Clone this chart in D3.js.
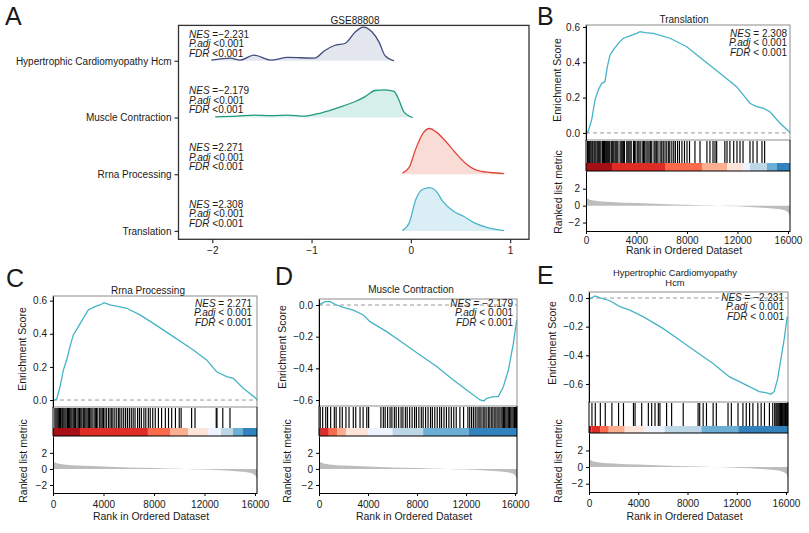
<!DOCTYPE html>
<html>
<head>
<meta charset="utf-8">
<script src="https://cdn.jsdelivr.net/npm/d3@7"></script>
<style>
  body { margin: 0; background: #fff; }
  text { font-family: "Liberation Sans", Arial, Helvetica, sans-serif; fill: #1a1a1a; }
</style>
</head>
<body>
<svg id="fig" width="809" height="533"></svg>
<script>
// ---------------- data: panel A (ridges) ----------------
var ridgeCats = ["Hypertrophic Cardiomyopathy Hcm", "Muscle Contraction", "Rrna Processing", "Translation"];
var ridgeNES = ["\u22122.231", "\u22122.179", "2.271", "2.308"];
var ridgeColors = ["#3d4a7c", "#1f9a7e", "#e0463b", "#4db4ca"];
var ridgeFills = ["#e4e6ef", "#d6efe9", "#fadcd7", "#d9eff5"];

var hcmX = [-2.01, -1.82, -1.72, -1.58, -1.41, -1.24, -0.97, -0.87, -0.77, -0.66, -0.56, -0.48, -0.39, -0.32, -0.26, -0.17];
var hcmD = [0.03, 0.12, 0.03, 0.25, 0.03, 0.15, 0.12, 0.45, 0.68, 0.78, 1.28, 1.50, 1.28, 0.83, 0.23, 0];
var muscleX = [-1.97, -1.75, -1.58, -1.41, -1.24, -1.07, -0.90, -0.73, -0.56, -0.46, -0.36, -0.26, -0.17, -0.12, -0.07, 0.02];
var muscleD = [0.03, 0.06, 0.11, 0.08, 0.11, 0.06, 0.21, 0.44, 0.71, 0.93, 1.20, 1.23, 1.16, 0.78, 0.25, 0];
var rrnaX = [-0.085, -0.017, 0.05, 0.12, 0.19, 0.255, 0.357, 0.46, 0.56, 0.66, 0.80, 0.94];
var rrnaD = [0.045, 0.30, 1.13, 1.80, 2.03, 1.88, 1.43, 0.90, 0.45, 0.18, 0.075, 0.03];
var transX = [-0.085, -0.017, 0.05, 0.12, 0.19, 0.255, 0.32, 0.43, 0.53, 0.63, 0.77, 0.94];
var transD = [0.015, 0.35, 1.40, 1.85, 1.92, 1.77, 1.32, 0.87, 0.65, 0.38, 0.15, 0.015];

// ---------------- data: GSEA panels ----------------
var nGenes = 16160;
var metricRank = [0, 100, 300, 600, 1000, 1500, 2000, 3000, 4000, 5000, 6000, 7000, 8000, 9000, 10000, 11000, 12000, 13000, 14000, 14800, 15400, 15800, 16000, 16100, 16160];
var metricValue = [1.05, 0.85, 0.7, 0.6, 0.52, 0.46, 0.42, 0.35, 0.3, 0.24, 0.19, 0.14, 0.1, 0.06, 0.02, -0.03, -0.08, -0.15, -0.24, -0.33, -0.42, -0.58, -0.78, -1.0, -1.3];

var barColors = ["#A50F15", "#DE2D26", "#FB6A4A", "#FCAE91", "#FEE5D9", "#EFF3FF", "#BDD7E7", "#6BAED6", "#3182BD"];

var gseaTitles = [["Translation"], ["Rrna Processing"], ["Muscle Contraction"], ["Hypertrophic Cardiomyopathy", "Hcm"]];
var gseaNES = ["2.308", "2.271", "\u22122.179", "\u22122.231"];

var esTranslation = [[0, 0], [50, -0.002], [180, 0.01], [450, 0.074], [713, 0.187], [977, 0.243], [1240, 0.281], [1505, 0.29], [1690, 0.375],
  [1900, 0.44], [2165, 0.47], [2560, 0.507], [2960, 0.536], [3485, 0.549], [4015, 0.564], [4280, 0.573], [4675, 0.568], [5330, 0.564],
  [6650, 0.536], [7980, 0.488], [9290, 0.413], [10610, 0.338], [11930, 0.262], [12990, 0.168], [13520, 0.149], [14040, 0.14],
  [14570, 0.12], [15370, 0.055], [16160, 0.002]];
var esRrna = [[0, 0], [26, 0], [290, 0.004], [554, 0.08], [818, 0.181], [1082, 0.242], [1346, 0.322], [1610, 0.393], [2006, 0.443],
  [2402, 0.494], [2798, 0.544], [3326, 0.564], [3722, 0.574], [4040, 0.588], [4515, 0.574], [4911, 0.568], [5835, 0.554], [6891, 0.514],
  [7947, 0.463], [9531, 0.383], [11115, 0.302], [12170, 0.242], [12962, 0.171], [13755, 0.141], [14280, 0.131], [15073, 0.071],
  [16079, 0.01], [16160, 0]];
var esMuscle = [[0, 0], [82, 0.004], [490, 0.021], [898, 0.021], [1442, 0], [1986, -0.015], [2802, -0.032], [3619, -0.063], [4163, -0.105],
  [5524, -0.168], [6885, -0.242], [8245, -0.316], [9606, -0.389], [10966, -0.474], [12054, -0.537], [13143, -0.6], [13450, -0.606],
  [13687, -0.589], [14231, -0.579], [14639, -0.579], [15045, -0.516], [15455, -0.411], [15864, -0.242], [16136, -0.095]];
var esHcm = [[0, 0], [27, -0.009], [485, 0.014], [1024, -0.002], [1697, -0.019], [2505, -0.06], [3313, -0.084], [4390, -0.13], [6006, -0.212],
  [7354, -0.293], [8700, -0.375], [10050, -0.456], [11390, -0.549], [12740, -0.607], [13820, -0.654], [14360, -0.661], [14760, -0.672],
  [15030, -0.654], [15300, -0.572], [15570, -0.433], [15840, -0.293], [16100, -0.13]];

var hitsTranslation = [120, 210, 290, 380, 470, 540, 640, 720, 800, 930, 1010, 1090, 1180, 1300, 1380, 1460, 1560, 1640, 1720, 1800,
  1880, 2000, 2080, 2160, 2290, 2370, 2450, 2530, 2700, 2790, 2870, 2960, 3050, 3230, 3320, 3400, 3490, 3580, 3760, 3850, 3950, 4100,
  4190, 4290, 4450, 4560, 4650, 4760, 4900, 5000, 5120, 5210, 5390, 5480, 5600, 5700, 5870, 6000, 6120, 6260, 6400, 6550, 6640, 6800,
  6950, 7080, 7250, 7400, 7600, 7800, 8000, 8200, 8630, 9030, 9580, 9820, 10060, 10220, 10350, 11000, 11170, 11400, 11700, 11960,
  12200, 12440, 12990, 13230, 13550, 13940, 14150];
var hitsRrna = [150, 240, 330, 420, 520, 600, 700, 770, 860, 950, 1040, 1150, 1230, 1320, 1410, 1500, 1600, 1690, 1780, 1900, 2000,
  2100, 2200, 2290, 2400, 2480, 2600, 2700, 2800, 2900, 3000, 3100, 3250, 3350, 3440, 3550, 3700, 3800, 3900, 4000, 4120, 4250, 4400,
  4520, 4650, 4750, 4900, 5050, 5200, 5300, 5450, 5600, 5750, 5900, 6050, 6200, 6350, 6500, 6700, 6850, 7000, 7200, 7350, 7550, 7700,
  7900, 8100, 8350, 8600, 8900, 9150, 9400, 9700, 10000, 10150, 10980, 11250, 12930, 12990, 13450, 14020];
var hitsMuscle = [100, 300, 550, 700, 950, 1250, 1400, 1700, 1900, 2200, 2450, 2800, 3000, 3350, 3600, 3900, 4050, 5050, 5250, 5400,
  5600, 5800, 5950, 6150, 6300, 6500, 6700, 6850, 7050, 7200, 7400, 7600, 7800, 7950, 8150, 8350, 8500, 8700, 8900, 9100, 9250, 9450,
  9650, 9850, 10000, 10200, 10400, 10600, 10800, 11000, 11200, 11500, 11800, 12150, 12300, 12450, 12600, 12750, 12900, 13050, 13150,
  13300, 13450, 13550, 13700, 13850, 13950, 14100, 14200, 14350, 14450, 14600, 14700, 14850, 14950, 15050, 15150, 15250, 15350, 15450,
  15550, 15650, 15750, 15850, 15950, 16050, 16120];
var hitsHcm = [240, 510, 920, 1320, 1860, 2400, 2800, 3610, 3740, 4280, 4820, 5090, 5360, 5630, 5760, 6300, 6710, 7650, 8860, 8990,
  9270, 9540, 10080, 10340, 11290, 11560, 12100, 12500, 12770, 13040, 13310, 13710, 13980, 14250, 14650, 14920, 15080, 15180, 15260,
  15340, 15420, 15490, 15560, 15630, 15700, 15770, 15840, 15900, 15960, 16020, 16080, 16130];

var breaksTranslation = [0, 2060, 6260, 9190, 11170, 12430, 12990, 14340, 15130, 16160];
var breaksRrna = [0, 2140, 7520, 9270, 10700, 12280, 13300, 14260, 15050, 16160];
var breaksMuscle = [0, 150, 800, 1500, 2200, 4000, 6000, 8500, 12200, 16160];
var breaksHcm = [0, 200, 900, 1600, 2900, 4500, 6140, 9130, 12120, 16160];

var xTicks = [0, 4000, 8000, 12000, 16000];

// ---------------- drawing ----------------
var svg = d3.select("#fig");

// panel letters
[["A", 5, 25], ["B", 537, 25], ["C", 6, 287], ["D", 275, 285], ["E", 537, 284]].forEach(function (l) {
  svg.append("text").attr("x", l[1]).attr("y", l[2]).style("font-size", "25px").text(l[0]);
});

// ---- panel A ----
var xA = d3.scaleLinear().domain([-2.34, 1.19]).range([178.5, 529]);
var yA = d3.scalePoint().domain(ridgeCats).range([60.8, 230.9]);
var hA = d3.scaleLinear().domain([0, 1]).range([0, 22.5]);

var ridgeData = [d3.zip(hcmX, hcmD), d3.zip(muscleX, muscleD), d3.zip(rrnaX, rrnaD), d3.zip(transX, transD)];

var gA = svg.append("g");
ridgeData.forEach(function (pts, i) {
  var base = yA(ridgeCats[i]);
  var area = d3.area().curve(d3.curveMonotoneX)
    .x(function (d) { return xA(d[0]); })
    .y0(base)
    .y1(function (d) { return base - hA(d[1]); });
  var line = d3.line().curve(d3.curveMonotoneX)
    .x(function (d) { return xA(d[0]); })
    .y(function (d) { return base - hA(d[1]); });
  gA.append("path").datum(pts).attr("d", area).attr("fill", ridgeFills[i]);
  gA.append("path").datum(pts).attr("d", line).attr("fill", "none")
    .attr("stroke", ridgeColors[i]).attr("stroke-width", 1.3);

  var t = [base - 23.2, base - 13.6, base - 4.2];
  var t1 = gA.append("text").attr("x", 189).attr("y", t[0]).style("font-size", "10px");
  t1.append("tspan").style("font-style", "italic").text("NES");
  t1.append("tspan").text(" =" + ridgeNES[i]);
  var t2 = gA.append("text").attr("x", 189).attr("y", t[1]).style("font-size", "10px");
  t2.append("tspan").style("font-style", "italic").text("P.adj");
  t2.append("tspan").text(" <0.001");
  var t3 = gA.append("text").attr("x", 189).attr("y", t[2]).style("font-size", "10px");
  t3.append("tspan").style("font-style", "italic").text("FDR");
  t3.append("tspan").text(" <0.001");
});

gA.append("rect").attr("x", 178.5).attr("y", 25.4).attr("width", 350.5).attr("height", 213.9)
  .attr("fill", "none").attr("stroke", "#333").attr("stroke-width", 1.3);

var axA = gA.append("g").attr("transform", "translate(0,239.3)")
  .call(d3.axisBottom(xA).tickValues([-2, -1, 0, 1]).tickSize(4).tickFormat(d3.format("d")));
var ayA = gA.append("g").attr("transform", "translate(178.5,0)")
  .call(d3.axisLeft(yA).tickSize(4));
[axA, ayA].forEach(function (a) {
  a.select(".domain").remove();
  a.selectAll("line").attr("stroke", "#333").attr("stroke-width", 1.2);
  a.selectAll("text").style("font-size", "10px").style("font-family", null).attr("fill", "#1a1a1a");
});
ayA.selectAll("text").attr("x", -7);
axA.selectAll("text").attr("y", 8);

gA.append("text").attr("x", 355).attr("y", 23.5).attr("text-anchor", "middle")
  .style("font-size", "10px").text("GSE88808");

// ---- GSEA panels ----
var gseaLayout = [
  { left: 586, right: 790, esTop: 25, esBot: 140, hitBot: 163, barBot: 171, metBot: 231, esDomain: [-0.04, 0.611],
    esTicks: [0, 0.2, 0.4, 0.6], titleX: 684, titleY: 23, statX: 787, statY: 36.5, esTitleX: 557, esTitleY: 80,
    metTitleX: 558, metTitleY: 192, tickY: 243.5, xTitleY: 254 },
  { left: 53, right: 257, esTop: 296, esBot: 407, hitBot: 428, barBot: 436, metBot: 493, esDomain: [-0.042, 0.628],
    esTicks: [0, 0.2, 0.4, 0.6], titleX: 148, titleY: 294, statX: 252, statY: 306.5, esTitleX: 22, esTitleY: 349,
    metTitleX: 23, metTitleY: 461, tickY: 507.5, xTitleY: 520 },
  { left: 319, right: 517, esTop: 299, esBot: 406, hitBot: 428, barBot: 436, metBot: 493, esDomain: [-0.638, 0.038],
    esTicks: [0, -0.2, -0.4, -0.6], titleX: 411, titleY: 292.5, statX: 513, statY: 306.5, esTitleX: 282, esTitleY: 347,
    metTitleX: 287, metTitleY: 461, tickY: 507.5, xTitleY: 520 },
  { left: 589, right: 788, esTop: 292, esBot: 402, hitBot: 426, barBot: 433, metBot: 492, esDomain: [-0.726, 0.042],
    esTicks: [0, -0.2, -0.4, -0.6], titleX: 675, titleY: 276, statX: 784, statY: 300.5, esTitleX: 552, esTitleY: 343,
    metTitleX: 558, metTitleY: 461, tickY: 507, xTitleY: 520 }
];
var gseaES = [esTranslation, esRrna, esMuscle, esHcm];
var gseaHits = [hitsTranslation, hitsRrna, hitsMuscle, hitsHcm];
var gseaBreaks = [breaksTranslation, breaksRrna, breaksMuscle, breaksHcm];

function styleAxis(a) {
  a.selectAll("line").attr("stroke", "#000").attr("stroke-width", 1);
  a.select(".domain").attr("stroke", "#000").attr("stroke-width", 1);
  a.selectAll("text").style("font-size", "10px").style("font-family", null).attr("fill", "#1a1a1a");
}

gseaLayout.forEach(function (p, k) {
  var g = svg.append("g");
  var x = d3.scaleLinear().domain([0, nGenes]).range([p.left, p.right]);
  var y = d3.scaleLinear().domain(p.esDomain).range([p.esBot, p.esTop]);
  var ym = d3.scaleLinear().domain([-3, 4.1]).range([p.metBot, p.barBot]);

  // ranked list metric
  g.append("path").datum(d3.zip(metricRank, metricValue))
    .attr("d", d3.area().x(function (d) { return x(d[0]); }).y0(ym(0)).y1(function (d) { return ym(d[1]); }))
    .attr("fill", "#bdbdbd");

  // colour bar
  var segs = d3.pairs(gseaBreaks[k]).map(function (b, i) { return { a: b[0], b: b[1], c: barColors[i] }; });
  g.selectAll("rect.seg").data(segs).join("rect").attr("class", "seg")
    .attr("x", function (s) { return x(s.a); })
    .attr("width", function (s) { return x(s.b) - x(s.a); })
    .attr("y", p.hitBot).attr("height", p.barBot - p.hitBot)
    .attr("fill", function (s) { return s.c; });

  // hits
  g.selectAll("line.hit").data(gseaHits[k]).join("line").attr("class", "hit")
    .attr("x1", function (h) { return x(h); }).attr("x2", function (h) { return x(h); })
    .attr("y1", p.esBot + 1).attr("y2", p.hitBot)
    .attr("stroke", "#000").attr("stroke-width", 1.15);

  // zero line
  g.append("line").attr("x1", p.left).attr("x2", p.right).attr("y1", y(0)).attr("y2", y(0))
    .attr("stroke", "#9a9a9a").attr("stroke-width", 1).attr("stroke-dasharray", "4,3");

  // running enrichment score
  g.append("path").datum(gseaES[k])
    .attr("d", d3.line().x(function (d) { return x(d[0]); }).y(function (d) { return y(d[1]); }))
    .attr("fill", "none").attr("stroke", "#45b3c7").attr("stroke-width", 1.3);

  // frames
  g.append("rect").attr("x", p.left).attr("y", p.esTop).attr("width", p.right - p.left).attr("height", p.esBot - p.esTop)
    .attr("fill", "none").attr("stroke", "#8c8c8c").attr("stroke-width", 1);
  g.append("line").attr("x1", p.right).attr("x2", p.right).attr("y1", p.esBot).attr("y2", p.metBot)
    .attr("stroke", "#000").attr("stroke-width", 1);
  g.append("line").attr("x1", p.left).attr("x2", p.left).attr("y1", p.esBot).attr("y2", p.barBot)
    .attr("stroke", "#000").attr("stroke-width", 1);
  g.append("line").attr("x1", p.left).attr("x2", p.right).attr("y1", p.barBot).attr("y2", p.barBot)
    .attr("stroke", "#000").attr("stroke-width", 1.2);

  // axes
  var ay = g.append("g").attr("transform", "translate(" + p.left + ",0)")
    .call(d3.axisLeft(y).tickValues(p.esTicks).tickSize(3).tickSizeOuter(0).tickFormat(d3.format(".1f")));
  var am = g.append("g").attr("transform", "translate(" + p.left + ",0)")
    .call(d3.axisLeft(ym).tickValues([-2, 0, 2]).tickSize(3).tickSizeOuter(0).tickFormat(d3.format("d")));
  var ax = g.append("g").attr("transform", "translate(0," + p.metBot + ")")
    .call(d3.axisBottom(x).tickValues(xTicks).tickSize(3).tickSizeOuter(0).tickFormat(d3.format("d")));
  [ay, am, ax].forEach(styleAxis);
  ax.selectAll("text").attr("y", null).attr("dy", null)
    .attr("transform", "translate(0," + (p.tickY - p.metBot) + ")");

  // titles
  var lines = gseaTitles[k];
  lines.forEach(function (s, j) {
    g.append("text").attr("x", p.titleX).attr("y", p.titleY + j * 10).attr("text-anchor", "middle")
      .style("font-size", lines.length > 1 ? "9.4px" : "10px").text(s);
  });

  g.append("text").attr("x", (p.left + p.right) / 2 - 4).attr("y", p.xTitleY).attr("text-anchor", "middle")
    .style("font-size", "10.5px").text("Rank in Ordered Dataset");
  g.append("text").attr("transform", "translate(" + p.esTitleX + "," + p.esTitleY + ") rotate(-90)")
    .attr("text-anchor", "middle").attr("dy", "0.35em").style("font-size", "10.5px").text("Enrichment Score");
  g.append("text").attr("transform", "translate(" + p.metTitleX + "," + p.metTitleY + ") rotate(-90)")
    .attr("text-anchor", "middle").attr("dy", "0.35em").style("font-size", "10.5px").text("Ranked list metric");

  // statistics
  var s1 = g.append("text").attr("x", p.statX).attr("y", p.statY).attr("text-anchor", "end").style("font-size", "10px");
  s1.append("tspan").style("font-style", "italic").text("NES");
  s1.append("tspan").text(" = " + gseaNES[k]);
  var s2 = g.append("text").attr("x", p.statX).attr("y", p.statY + 9.7).attr("text-anchor", "end").style("font-size", "10px");
  s2.append("tspan").style("font-style", "italic").text("P.adj");
  s2.append("tspan").text(" < 0.001");
  var s3 = g.append("text").attr("x", p.statX).attr("y", p.statY + 19.4).attr("text-anchor", "end").style("font-size", "10px");
  s3.append("tspan").style("font-style", "italic").text("FDR");
  s3.append("tspan").text(" < 0.001");
});
</script>
</body>
</html>
